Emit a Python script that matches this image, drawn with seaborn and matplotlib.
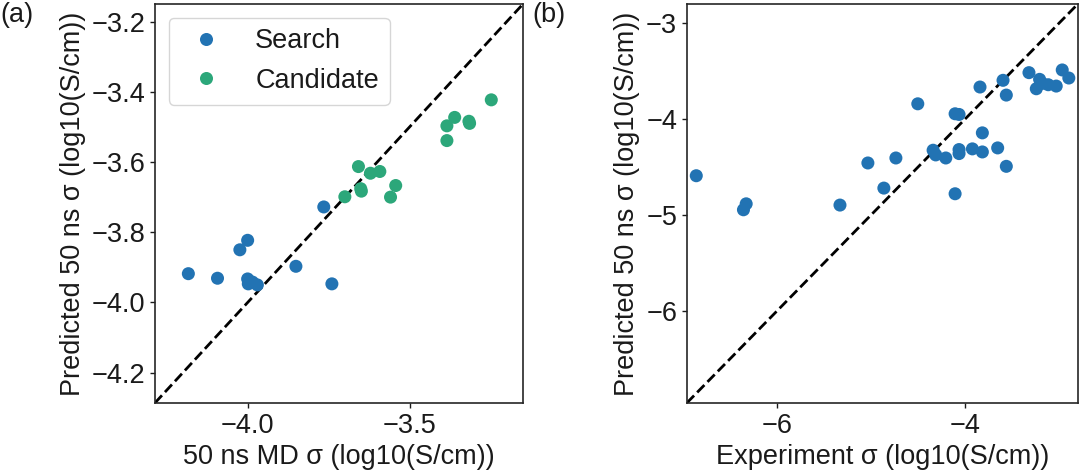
import matplotlib
matplotlib.use("Agg")
import matplotlib.pyplot as plt
import seaborn as sns
import pandas as pd

# Panel (a) data
search_md = [-4.183, -4.093, -4.024, -4.000, -4.000, -3.998, -3.985, -3.970, -3.851, -3.765, -3.740]
search_pred = [-3.918, -3.931, -3.850, -3.823, -3.933, -3.947, -3.942, -3.950, -3.897, -3.728, -3.947]
cand_md = [-3.700, -3.658, -3.651, -3.649, -3.621, -3.592, -3.559, -3.543, -3.385, -3.385, -3.361, -3.317, -3.315, -3.248]
cand_pred = [-3.699, -3.613, -3.676, -3.683, -3.632, -3.627, -3.700, -3.667, -3.497, -3.539, -3.473, -3.484, -3.490, -3.423]

# Panel (b) data
exp_sigma = [-6.860, -6.358, -6.329, -5.331, -5.034, -4.864, -4.736, -4.503, -4.340, -4.312,
             -4.205, -4.106, -4.064, -4.106, -4.064, -4.064, -3.922, -3.841, -3.816, -3.816,
             -3.653, -3.596, -3.561, -3.561, -3.320, -3.242, -3.207, -3.179, -3.115, -3.030,
             -2.966, -2.896]
pred_sigma = [-4.591, -4.946, -4.884, -4.897, -4.458, -4.720, -4.406, -3.841, -4.325, -4.374,
              -4.406, -3.945, -3.952, -4.779, -4.318, -4.360, -4.311, -3.666, -4.144, -4.343,
              -4.301, -3.596, -3.750, -4.493, -3.516, -3.684, -3.586, -3.628, -3.642, -3.656,
              -3.488, -3.572]

lims_a = (-4.286, -3.15)
lims_b = (-6.96, -2.80)

sns.set_style("ticks")
plt.rcParams['font.family'] = ['Liberation Sans', 'DejaVu Sans']
plt.rcParams['axes.unicode_minus'] = True
plt.rcParams['text.color'] = '#1a1a1a'
plt.rcParams['axes.labelcolor'] = '#1a1a1a'
plt.rcParams['xtick.color'] = '#1a1a1a'
plt.rcParams['ytick.color'] = '#1a1a1a'
FS = 19.5

blue = "#2273b3"
green = "#2ca77a"

df_a = pd.DataFrame({
    "md": search_md + cand_md,
    "pred": search_pred + cand_pred,
    "group": ["Search"] * len(search_md) + ["Candidate"] * len(cand_md),
})
df_b = pd.DataFrame({"exp": exp_sigma, "pred": pred_sigma})

fig = plt.figure(figsize=(10.8, 4.74), dpi=100)
ax1 = fig.add_axes([0.1435, 0.150, 0.3408, 0.8416])
ax2 = fig.add_axes([0.636, 0.150, 0.362, 0.8416])

sns.scatterplot(data=df_a, x="md", y="pred", hue="group", palette={"Search": blue, "Candidate": green},
                s=88, edgecolor="none", ax=ax1, zorder=3)
ax1.plot(lims_a, lims_a, color="black", linestyle="--", linewidth=2, zorder=2)
ax1.set_xlim(lims_a)
ax1.set_ylim(lims_a)
ax1.set_xticks([-4.0, -3.5])
ax1.set_yticks([-4.2, -4.0, -3.8, -3.6, -3.4, -3.2])
ax1.set_xlabel("50 ns MD σ (log10(S/cm))", fontsize=FS)
ax1.set_ylabel("Predicted 50 ns σ (log10(S/cm))", fontsize=FS)
leg = ax1.legend(loc="upper left", fontsize=FS, title=None)

sns.scatterplot(data=df_b, x="exp", y="pred", color=blue, s=88, edgecolor="none", ax=ax2, zorder=3)
ax2.plot(lims_b, lims_b, color="black", linestyle="--", linewidth=2, zorder=2)
ax2.set_xlim(lims_b)
ax2.set_ylim(lims_b)
ax2.set_xticks([-6, -4])
ax2.set_yticks([-6, -5, -4, -3])
ax2.set_xlabel("Experiment σ (log10(S/cm))", fontsize=FS)
ax2.set_ylabel("Predicted 50 ns σ (log10(S/cm))", fontsize=FS)

for ax in (ax1, ax2):
    ax.tick_params(labelsize=FS, length=3.5, width=1, pad=3.5)
    for sp in ax.spines.values():
        sp.set_linewidth(1.2)
        sp.set_color("#262626")

fig.text(0.0, 0.995, "(a)", fontsize=FS, va="top", ha="left")
fig.text(0.493, 0.995, "(b)", fontsize=FS, va="top", ha="left")

fig.savefig("out.png", dpi=100)
